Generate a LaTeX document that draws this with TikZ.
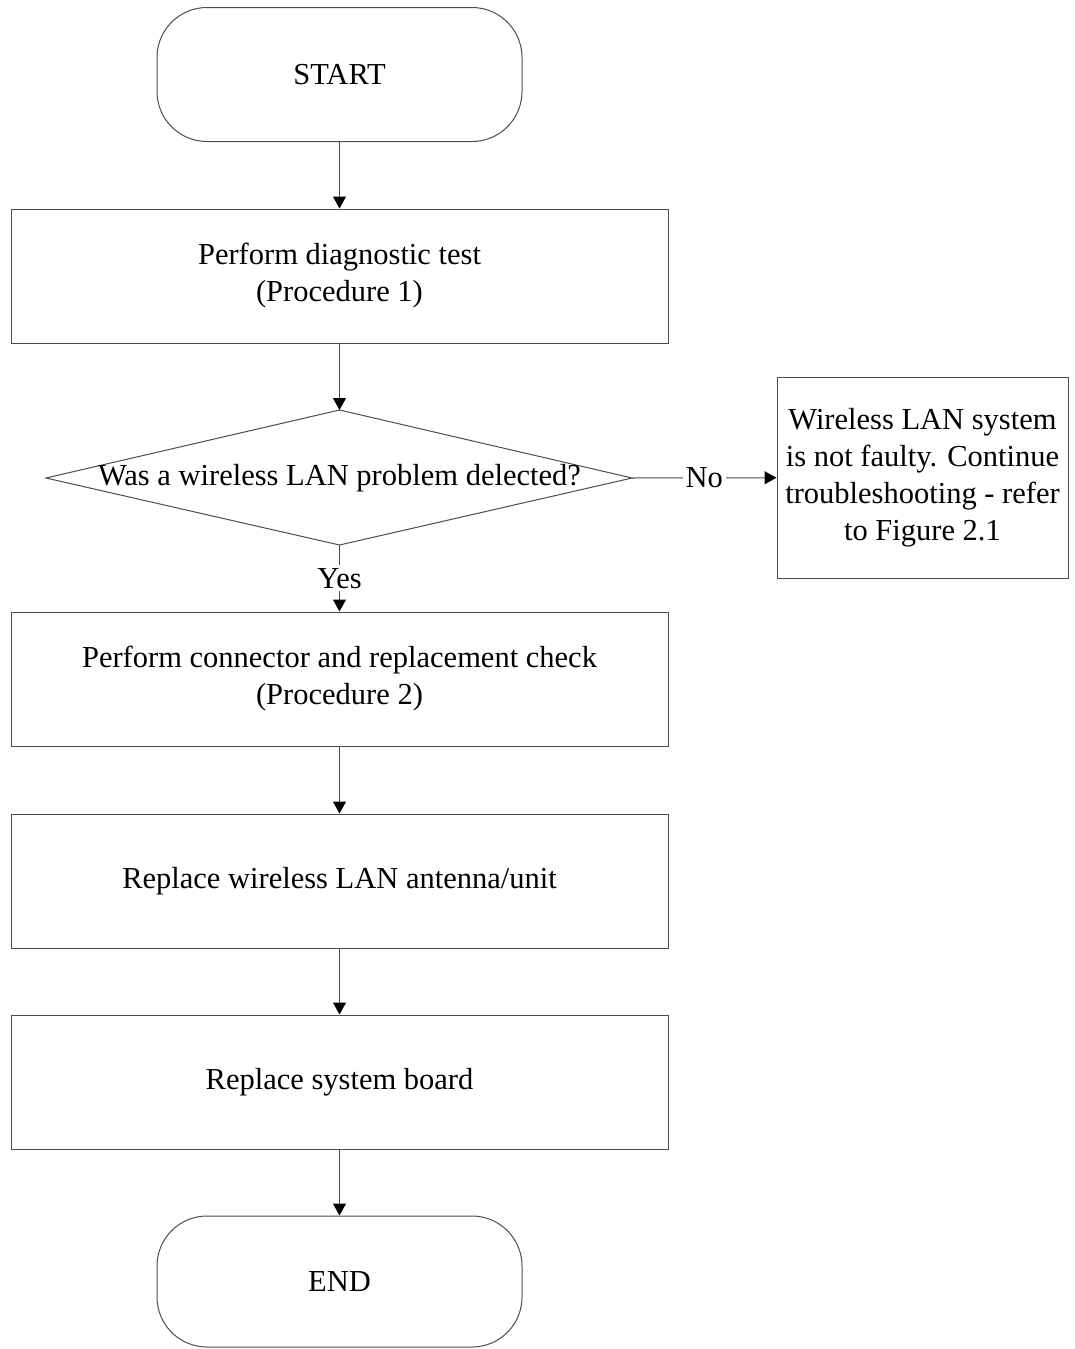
\documentclass[tikz,border=0pt]{standalone}
\usepackage{fontspec}
\setmainfont{Liberation Serif}
\usetikzlibrary{arrows.meta}
\definecolor{edge}{rgb}{0.3,0.3,0.3}
\begin{document}
\begin{tikzpicture}[x=1pt,y=-1pt,
  every node/.style={font=\fontsize{30.5}{37}\selectfont},
  term/.style={draw=edge,line width=1pt,rounded corners=50pt,minimum width=365pt,minimum height=134pt,align=center},
  procbox/.style={draw=edge,line width=1pt,minimum width=657pt,minimum height=134pt,align=center},
  notebox/.style={draw=edge,line width=1pt,minimum width=291pt,minimum height=201pt,align=center,inner sep=0pt},
  flow/.style={draw=edge,line width=1pt,-{Triangle[length=12pt,width=13pt,color=black]}},
  lbl/.style={fill=white,inner sep=3pt}]
\useasboundingbox (0,0) rectangle (1074,1349);
\node[term] (start) at (339.5,74.5) {START};
\node[procbox] (b1) at (339.5,276) {Perform diagnostic test\\(Procedure 1)};
\coordinate (dtop) at (339.5,410);
\coordinate (dbot) at (339.5,545);
\coordinate (dleft) at (46,478);
\coordinate (dright) at (632,478);
\draw[edge,line width=1pt] (dtop) -- (dright) -- (dbot) -- (dleft) -- cycle;
\node (dec) at (339.5,478) {Was a wireless LAN problem delected?};
\node[notebox] (nb) at (922.5,477.5) {Wireless LAN system\\is not faulty. Continue\\troubleshooting - refer\\to Figure 2.1};
\node[procbox] (b2) at (339.5,679) {Perform connector and replacement check\\(Procedure 2)};
\node[procbox] (b3) at (339.5,881) {Replace wireless LAN antenna/unit};
\node[procbox] (b4) at (339.5,1082) {Replace system board};
\node[term,minimum height=131pt] (end) at (339.5,1281.5) {END};
\draw[flow] (start) -- (b1);
\draw[flow] (b1) -- (dtop);
\draw[flow] (dright) -- node[lbl] (no) {No} (nb);
\draw[flow] (dbot) -- node[lbl] (yes) {Yes} (b2);
\draw[flow] (b2) -- (b3);
\draw[flow] (b3) -- (b4);
\draw[flow] (b4) -- (end);
\end{tikzpicture}
\end{document}
